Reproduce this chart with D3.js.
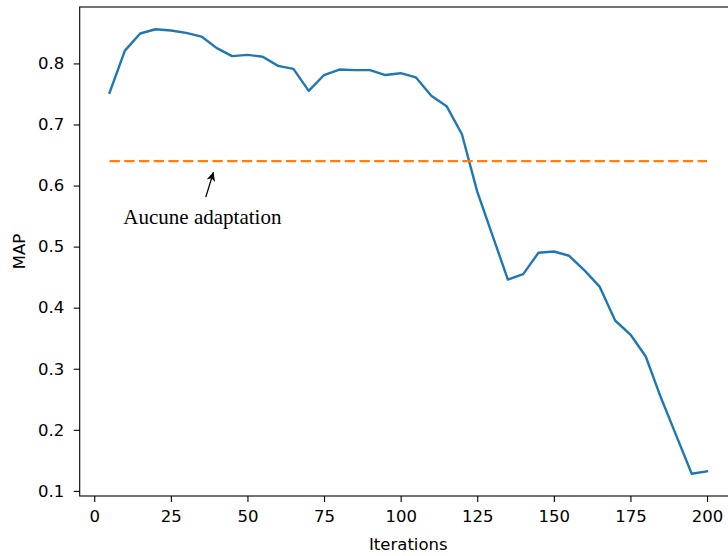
<!DOCTYPE html>
<html>
<head>
<meta charset="utf-8">
<script src="https://cdn.jsdelivr.net/npm/d3@7"></script>
<style>
  body { margin: 0; background: #fff; }
  svg { display: block; }
  .tick text { font-family: "DejaVu Sans", sans-serif; font-size: 16.5px; fill: #000; }
</style>
</head>
<body>
<div id="chart"></div>
<script>
// MAP measured every 5 iterations
const iterations = [5, 10, 15, 20, 25, 30, 35, 40, 45, 50, 55, 60, 65, 70, 75, 80, 85, 90, 95, 100,
                    105, 110, 115, 120, 125, 130, 135, 140, 145, 150, 155, 160, 165, 170, 175, 180, 185, 190, 195, 200];
const mapValues = [0.752, 0.821, 0.849, 0.856, 0.854, 0.850, 0.844, 0.825, 0.812, 0.814,
                   0.811, 0.796, 0.791, 0.755, 0.781, 0.790, 0.789, 0.789, 0.781, 0.784,
                   0.777, 0.747, 0.730, 0.684, 0.590, 0.518, 0.446, 0.455, 0.490, 0.492,
                   0.485, 0.461, 0.434, 0.379, 0.356, 0.320, 0.252, 0.190, 0.128, 0.132];
const baseline = 0.64; // "Aucune adaptation"
const xTicks = [0, 25, 50, 75, 100, 125, 150, 175, 200];
const yTicks = [0.1, 0.2, 0.3, 0.4, 0.5, 0.6, 0.7, 0.8];

const annotation = { label: "Aucune adaptation", text: [9.5, 0.537], tail: [36.4, 0.581], tip: [38.9, 0.622] };

const width = 728, height = 556;
const margin = { left: 79.7, top: 7, right: -8.9, bottom: 60 };

// matplotlib-style 5% padding around the data
function padded(values) {
  const [lo, hi] = d3.extent(values);
  const p = (hi - lo) * 0.05;
  return [lo - p, hi + p];
}

const x = d3.scaleLinear().domain(padded(iterations)).range([margin.left, width - margin.right]);
const y = d3.scaleLinear().domain(padded(mapValues)).range([height - margin.bottom, margin.top]);

const svg = d3.select("#chart").append("svg")
    .attr("width", width)
    .attr("height", height);

// line series
const line = d3.line().x(d => x(d[0])).y(d => y(d[1]));
svg.append("path")
    .datum(iterations.map((it, i) => [it, mapValues[i]]))
    .attr("fill", "none")
    .attr("stroke", "#1f77b4")
    .attr("stroke-width", 2.4)
    .attr("stroke-linejoin", "round")
    .attr("stroke-linecap", "square")
    .attr("d", line);

// no-adaptation reference
svg.append("path")
    .datum([[iterations[0], baseline], [iterations[iterations.length - 1], baseline]])
    .attr("fill", "none")
    .attr("stroke", "#ff7f0e")
    .attr("stroke-width", 2.4)
    .attr("stroke-dasharray", "10.3,4.4")
    .attr("d", line);

// axes
const xAxis = svg.append("g")
    .attr("transform", `translate(0,${height - margin.bottom})`)
    .call(d3.axisBottom(x).tickValues(xTicks).tickSize(6).tickPadding(8.5).tickFormat(d3.format("d")));
const yAxis = svg.append("g")
    .attr("transform", `translate(${margin.left},0)`)
    .call(d3.axisLeft(y).tickValues(yTicks).tickSize(6).tickPadding(9.5).tickFormat(d3.format(".1f")));
[xAxis, yAxis].forEach(g => {
  g.select(".domain").remove();
  g.selectAll(".tick line").attr("stroke", "#000").attr("stroke-width", 1.1);
});

// frame (right edge falls outside the picture)
svg.append("rect")
    .attr("x", margin.left)
    .attr("y", margin.top)
    .attr("width", width - margin.right - margin.left)
    .attr("height", height - margin.bottom - margin.top)
    .attr("fill", "none")
    .attr("stroke", "#000")
    .attr("stroke-width", 1.1);

// axis labels
svg.append("text")
    .attr("x", (margin.left + width - margin.right) / 2)
    .attr("y", 549.5)
    .attr("text-anchor", "middle")
    .style("font-family", "DejaVu Sans, sans-serif")
    .style("font-size", "16.5px")
    .text("Iterations");
svg.append("text")
    .attr("transform", `translate(25,${(margin.top + height - margin.bottom) / 2}) rotate(-90)`)
    .attr("text-anchor", "middle")
    .style("font-family", "DejaVu Sans, sans-serif")
    .style("font-size", "16.5px")
    .text("MAP");

// annotation
svg.append("defs").append("marker")
    .attr("id", "head")
    .attr("viewBox", "0 0 10 10")
    .attr("refX", 10).attr("refY", 5)
    .attr("markerWidth", 9).attr("markerHeight", 9)
    .attr("markerUnits", "userSpaceOnUse")
    .attr("orient", "auto")
  .append("path")
    .attr("d", "M0,0 L10,5 L0,10 L3,5 Z")
    .attr("fill", "#000");
svg.append("line")
    .attr("x1", x(annotation.tail[0])).attr("y1", y(annotation.tail[1]))
    .attr("x2", x(annotation.tip[0])).attr("y2", y(annotation.tip[1]))
    .attr("stroke", "#000")
    .attr("stroke-width", 1.3)
    .attr("marker-end", "url(#head)");
svg.append("text")
    .attr("x", x(annotation.text[0]))
    .attr("y", y(annotation.text[1]))
    .style("font-family", "Liberation Serif, serif")
    .style("font-size", "21px")
    .text(annotation.label);
</script>
</body>
</html>
